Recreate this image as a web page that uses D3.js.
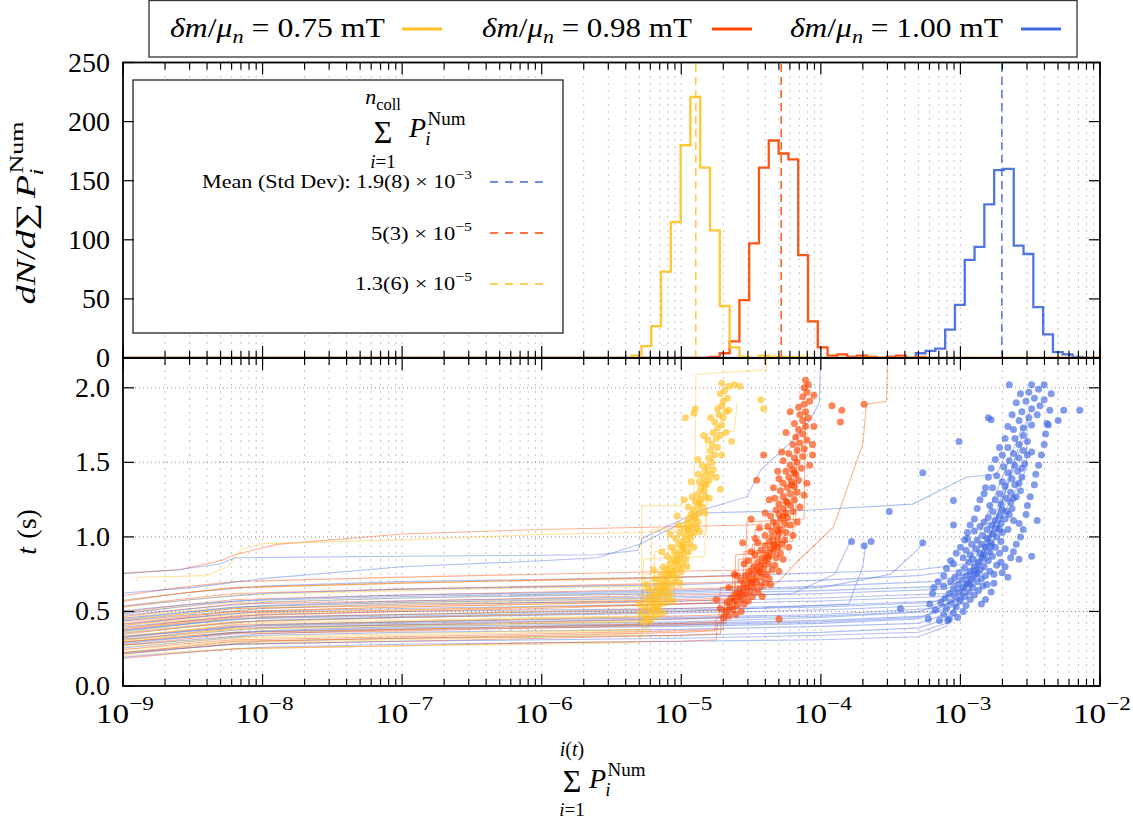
<!DOCTYPE html>
<html><head><meta charset="utf-8">
<script src="https://cdn.jsdelivr.net/npm/d3@7/dist/d3.min.js"></script>
<style>
body{margin:0;background:#fff}
text{font-family:"Times New Roman","Liberation Serif",serif;fill:#000;white-space:pre}
</style></head>
<body><svg id="c" width="1133" height="819"></svg>
<script>
// ---------------- DATA ----------------
const seriesNames = ['0.75', '0.98', '1.00'];           // delta m / mu_n in mT
const xExponents = [-9, -8, -7, -6, -5, -4, -3, -2];
const histTicks = [0, 50, 100, 150, 200, 250];
const timeTicks = [0.0, 0.5, 1.0, 1.5, 2.0];
const timeTickLabels = ['0.0', '0.5', '1.0', '1.5', '2.0'];

// histogram (log10 bins)
const binOrigin = -5.5664, binWidth = 0.0702;
const histStartBin = [3, 11, 25];
const histYellow = [2,10,27,73,115,180,221,161,108,44,9,1,0,2,1,1,1,1];
const histRed = [1,4,14,49,97,161,184,173,168,87,31,9,2,3,1,2,1,0,1,2,0,1];
const histBlue = [1,0,0,0,1,0,0,4,6,8,24,45,83,94,130,159,160,95,88,43,20,5,3,1];
const meanValues = [1.27e-5, 5.2e-5, 1.98e-3];
const meanLabels = [['1.3(6) × 10', '−5'], ['5(3) × 10', '−5'], ['1.9(8) × 10', '−3']];

// trajectories: [log10(sum P), t]
const yellowTracks = [
 [[-9.05,0.20],[-8.6,0.23],[-8.2,0.25],[-7,0.27],[-6,0.28],[-5.3,0.29],[-5.28,0.38],[-5.24,0.40],[-5.22,0.46]],
 [[-9.05,0.24],[-8.6,0.27],[-8.2,0.30],[-7,0.32],[-6,0.33],[-5.32,0.35],[-5.30,0.45],[-5.2,0.47],[-5.18,0.58]],
 [[-9.05,0.27],[-8.6,0.30],[-8.2,0.33],[-7,0.35],[-6,0.37],[-5.28,0.38],[-5.27,0.52],[-5.12,0.54],[-5.10,0.70]],
 [[-9.05,0.29],[-8.6,0.33],[-8.2,0.36],[-7,0.38],[-6,0.40],[-5.3,0.41],[-5.29,0.60],[-5.05,0.62],[-5.04,0.82]],
 [[-9.05,0.31],[-8.6,0.35],[-8.2,0.38],[-7,0.41],[-6,0.42],[-5.25,0.44],[-5.24,0.65],[-5.0,0.66],[-4.98,0.95]],
 [[-9.05,0.33],[-8.6,0.37],[-8.2,0.40],[-7,0.43],[-6,0.45],[-5.26,0.46],[-5.25,0.56],[-5.15,0.58],[-5.14,0.66]],
 [[-9.05,0.36],[-8.6,0.40],[-8.2,0.43],[-7,0.46],[-6,0.48],[-5.28,0.49],[-5.27,0.85],[-5.0,0.87],[-4.99,1.0],[-4.9,1.02],[-4.89,1.18]],
 [[-9.05,0.38],[-8.6,0.42],[-8.2,0.45],[-7,0.48],[-6,0.50],[-5.22,0.51],[-5.21,0.60],[-5.12,0.62],[-5.11,0.74]],
 [[-9.05,0.40],[-8.6,0.44],[-8.2,0.48],[-7,0.51],[-6,0.53],[-5.2,0.54],[-5.19,0.72],[-5.02,0.74],[-5.01,0.90]],
 [[-9.05,0.42],[-8.6,0.47],[-8.2,0.50],[-7,0.53],[-6,0.55],[-5.3,0.56],[-5.284,0.58],[-5.284,1.21],[-4.998,1.21],[-4.99,1.25],[-4.85,1.27],[-4.84,1.35]],
 [[-9.05,0.45],[-8.6,0.50],[-8.2,0.53],[-7,0.56],[-6,0.58],[-5.18,0.59],[-5.17,0.78],[-4.95,0.80],[-4.94,1.05]],
 [[-9.05,0.48],[-8.6,0.53],[-8.2,0.56],[-7,0.59],[-6,0.61],[-5.15,0.62],[-5.14,0.70],[-5.08,0.72],[-5.07,0.78]],
 [[-9.05,0.52],[-8.6,0.57],[-8.2,0.61],[-7,0.64],[-6,0.66],[-5.1,0.67],[-5.09,1.0],[-4.82,1.02],[-4.81,1.45]],
 [[-8.9,0.70],[-8.9,0.73],[-8.4,0.74],[-8.25,0.80],[-8.15,0.92],[-8.0,0.955],[-7,0.98],[-6,1.017],[-5.3,1.03],[-5.0,1.05],[-4.95,1.10]],
 [[-9.05,0.30],[-8.6,0.34],[-8.2,0.38],[-7,0.40],[-6,0.42],[-5.2,0.43],[-5.19,0.9],[-4.92,0.95],[-4.9,1.6],[-4.895,2.09],[-4.39,2.12],[-4.385,2.3]],
 [[-9.05,0.22],[-8.6,0.26],[-8.2,0.29],[-7,0.31],[-6,0.33],[-5.24,0.34],[-5.23,0.50],[-5.16,0.52],[-5.15,0.62]],
 [[-9.05,0.57],[-8.6,0.62],[-8.2,0.66],[-7,0.69],[-6,0.71],[-5.1,0.72],[-5.09,0.85],[-4.83,0.87],[-4.82,1.69],[-4.62,1.71],[-4.60,1.90]],
 [[-9.05,0.35],[-8.6,0.39],[-8.2,0.42],[-7,0.44],[-6,0.46],[-5.27,0.47],[-5.26,0.75],[-5.05,0.77],[-5.04,0.92]],
 [[-9.05,0.26],[-8.6,0.29],[-8.2,0.32],[-7,0.34],[-6,0.36],[-5.25,0.37],[-5.24,0.48],[-5.19,0.50],[-5.18,0.55]],
 [[-9.05,0.44],[-8.6,0.48],[-8.2,0.52],[-7,0.55],[-6,0.57],[-5.22,0.58],[-5.21,1.05],[-4.88,1.07],[-4.87,1.30]]
];
const redTracks = [
 [[-9.05,0.18],[-8.6,0.22],[-8.2,0.25],[-7,0.27],[-6,0.29],[-5,0.30],[-4.75,0.31],[-4.74,0.42],[-4.68,0.44],[-4.67,0.48]],
 [[-9.05,0.21],[-8.6,0.25],[-8.2,0.28],[-7,0.30],[-6,0.32],[-5,0.34],[-4.72,0.35],[-4.71,0.50],[-4.62,0.52],[-4.61,0.57]],
 [[-9.05,0.24],[-8.6,0.28],[-8.2,0.31],[-7,0.33],[-6,0.35],[-5,0.37],[-4.70,0.38],[-4.69,0.55],[-4.55,0.57],[-4.54,0.66]],
 [[-9.05,0.27],[-8.6,0.31],[-8.2,0.35],[-7,0.37],[-6,0.39],[-5,0.41],[-4.68,0.42],[-4.67,0.60],[-4.48,0.62],[-4.47,0.78]],
 [[-9.05,0.30],[-8.6,0.35],[-8.2,0.39],[-7,0.41],[-6,0.43],[-5,0.45],[-4.73,0.46],[-4.72,0.66],[-4.42,0.68],[-4.41,0.88]],
 [[-9.05,0.32],[-8.6,0.37],[-8.2,0.41],[-7,0.43],[-6,0.45],[-5,0.47],[-4.66,0.48],[-4.65,0.58],[-4.52,0.60],[-4.51,0.70]],
 [[-9.05,0.34],[-8.6,0.39],[-8.2,0.43],[-7,0.46],[-6,0.48],[-5,0.50],[-4.64,0.51],[-4.63,0.75],[-4.36,0.77],[-4.35,1.0]],
 [[-9.05,0.37],[-8.6,0.42],[-8.2,0.46],[-7,0.48],[-6,0.50],[-5,0.52],[-4.62,0.53],[-4.61,0.70],[-4.45,0.72],[-4.44,0.84]],
 [[-9.05,0.40],[-8.6,0.45],[-8.2,0.49],[-7,0.51],[-6,0.53],[-5,0.55],[-4.60,0.56],[-4.59,0.85],[-4.30,0.87],[-4.29,1.15]],
 [[-9.05,0.43],[-8.6,0.48],[-8.2,0.52],[-7,0.54],[-6,0.56],[-5,0.58],[-4.58,0.59],[-4.57,0.68],[-4.48,0.70],[-4.47,0.76]],
 [[-9.05,0.46],[-8.6,0.51],[-8.2,0.55],[-7,0.57],[-6,0.59],[-5,0.61],[-4.56,0.62],[-4.55,0.90],[-4.26,0.92],[-4.25,1.30]],
 [[-9.05,0.49],[-8.6,0.54],[-8.2,0.58],[-7,0.61],[-6,0.63],[-5,0.65],[-4.52,0.66],[-4.51,0.80],[-4.40,0.82],[-4.39,0.90]],
 [[-9.05,0.53],[-8.6,0.58],[-8.2,0.62],[-7,0.65],[-6,0.67],[-5,0.69],[-4.50,0.70],[-4.49,0.95],[-4.20,0.97],[-4.19,1.50]],
 [[-9.05,0.754],[-8.6,0.78],[-8.3,0.84],[-8.2,0.88],[-7.9,0.95],[-7,1.02],[-6,1.05],[-5,1.07],[-4.5,1.08],[-4.42,1.09]],
 [[-9.05,0.38],[-8.6,0.43],[-8.2,0.47],[-7,0.50],[-6,0.52],[-5,0.55],[-4.6,0.57],[-4.5,0.62],[-4.3,0.70],[-4.175,0.83],[-3.91,1.066],[-3.70,1.62],[-3.673,1.89],[-3.53,1.91],[-3.52,2.3]],
 [[-9.05,0.60],[-8.6,0.66],[-8.2,0.70],[-7,0.73],[-6,0.75],[-5,0.77],[-4.48,0.78],[-4.47,1.05],[-4.18,1.07],[-4.17,1.70]],
 [[-9.05,0.29],[-8.6,0.33],[-8.2,0.36],[-7,0.38],[-6,0.40],[-5,0.42],[-4.70,0.43],[-4.69,0.52],[-4.58,0.54],[-4.57,0.60]],
 [[-9.05,0.22],[-8.6,0.26],[-8.2,0.30],[-7,0.32],[-6,0.34],[-5,0.36],[-4.76,0.37],[-4.75,0.45],[-4.70,0.47],[-4.69,0.52]],
 [[-9.05,0.56],[-8.6,0.62],[-8.2,0.66],[-7,0.69],[-6,0.71],[-5,0.73],[-4.54,0.74],[-4.53,1.10],[-4.12,1.12],[-4.11,1.85]],
 [[-9.05,0.41],[-8.6,0.46],[-8.2,0.50],[-7,0.53],[-6,0.55],[-5,0.57],[-4.62,0.58],[-4.61,0.88],[-4.33,0.90],[-4.32,1.05]]
];
const blueTracks = [
 [[-9.05,0.19],[-8.5,0.23],[-8,0.26],[-7,0.28],[-5,0.30],[-4,0.31],[-3.3,0.33],[-3.1,0.40],[-3.05,0.48]],
 [[-9.05,0.22],[-8.5,0.26],[-8,0.30],[-7,0.32],[-5,0.34],[-4,0.36],[-3.3,0.39],[-3.1,0.45],[-3.0,0.58]],
 [[-9.05,0.25],[-8.5,0.30],[-8,0.34],[-7,0.36],[-5,0.38],[-4,0.40],[-3.3,0.42],[-3.05,0.50],[-2.95,0.72]],
 [[-9.05,0.27],[-8.5,0.31],[-8,0.35],[-7,0.38],[-5,0.40],[-4,0.42],[-3.3,0.45],[-3.0,0.55],[-2.88,0.85]],
 [[-9.05,0.29],[-8.5,0.33],[-8,0.37],[-7,0.40],[-5,0.42],[-4,0.44],[-3.25,0.47],[-3.0,0.60],[-2.8,1.0]],
 [[-9.05,0.31],[-8.5,0.35],[-8,0.39],[-7,0.41],[-5,0.43],[-4,0.46],[-3.2,0.50],[-2.95,0.62],[-2.7,1.2]],
 [[-9.05,0.33],[-8.5,0.37],[-8,0.41],[-7,0.43],[-5,0.46],[-4,0.48],[-3.2,0.52],[-3.0,0.58],[-2.9,0.80]],
 [[-9.05,0.35],[-8.5,0.40],[-8,0.44],[-7,0.46],[-5,0.49],[-4,0.51],[-3.2,0.54],[-3.0,0.62],[-2.85,0.95]],
 [[-9.05,0.37],[-8.5,0.42],[-8,0.46],[-7,0.48],[-5,0.51],[-4,0.53],[-3.2,0.56],[-2.95,0.66],[-2.75,1.1]],
 [[-9.05,0.39],[-8.5,0.44],[-8,0.48],[-7,0.50],[-5,0.52],[-4,0.54],[-3.15,0.57],[-2.9,0.70],[-2.62,1.45]],
 [[-9.05,0.41],[-8.5,0.46],[-8,0.50],[-7,0.52],[-5,0.55],[-4,0.57],[-3.1,0.60],[-2.9,0.72],[-2.55,1.65]],
 [[-9.05,0.43],[-8.5,0.48],[-8,0.52],[-7,0.55],[-5,0.57],[-4,0.59],[-3.1,0.62],[-2.85,0.75],[-2.65,1.3]],
 [[-9.05,0.45],[-8.5,0.50],[-8,0.54],[-7,0.57],[-5,0.60],[-4,0.62],[-3.1,0.65],[-2.85,0.8],[-2.5,1.85]],
 [[-9.05,0.47],[-8.5,0.52],[-8,0.56],[-7,0.59],[-5,0.62],[-4,0.64],[-3.1,0.67],[-2.8,0.85],[-2.7,1.15]],
 [[-9.05,0.50],[-8.5,0.55],[-8,0.58],[-7,0.61],[-5,0.64],[-4,0.67],[-3.2,0.70],[-2.9,0.76],[-2.6,1.55]],
 [[-9.05,0.53],[-8.5,0.58],[-8,0.62],[-7,0.65],[-5,0.68],[-4,0.71],[-3.3,0.74],[-3.0,0.78],[-2.75,1.05]],
 [[-9.05,0.57],[-8.5,0.63],[-8,0.67],[-7,0.70],[-5,0.73],[-4,0.76],[-3.3,0.78],[-2.95,0.82],[-2.55,1.75]],
 [[-9.05,0.75],[-8.6,0.78],[-8.3,0.82],[-8.2,0.86],[-7,0.87],[-5.6,0.88],[-5.31,0.91],[-5.28,0.99],[-4.85,1.18],[-4.53,1.27],[-4.43,1.45],[-4.22,1.63],[-4.08,1.78],[-4.01,1.9],[-4.0,2.3]],
 [[-9.05,0.62],[-8.5,0.66],[-8,0.72],[-7,0.80],[-6,0.84],[-5.6,0.86],[-5.3,0.95],[-4.85,1.16],[-4.07,1.18],[-3.34,1.22],[-2.96,1.40],[-2.74,1.42],[-2.68,1.55]],
 [[-9.05,0.21],[-8.6,0.25],[-8.2,0.28],[-7,0.30],[-5,0.32],[-4,0.34],[-3.3,0.36],[-3.1,0.42],[-3.08,0.45]],
 [[-9.05,0.28],[-8.6,0.32],[-8.2,0.36],[-7,0.39],[-5,0.41],[-4,0.43],[-3.3,0.46],[-3.05,0.54],[-2.97,0.66]],
 [[-9.05,0.36],[-8.6,0.41],[-8.2,0.45],[-7,0.47],[-5,0.50],[-3.8,0.55],[-3.7,0.80],[-3.68,0.94]],
 [[-9.05,0.44],[-8.6,0.49],[-8.2,0.53],[-7,0.56],[-5,0.59],[-4.2,0.62],[-3.9,0.75],[-3.8,0.95],[-3.78,0.97]],
 [[-9.05,0.48],[-8.6,0.53],[-8.2,0.57],[-7,0.60],[-5,0.63],[-4,0.66],[-3.5,0.75],[-3.3,0.92],[-3.27,0.96]],
 [[-9.05,0.32],[-8.6,0.36],[-8.2,0.40],[-7,0.42],[-5,0.45],[-4,0.47],[-3.3,0.50],[-3.0,0.58],[-2.53,1.45],[-2.52,1.8]]
];

// end points: [log10(sum P), t]
const yellowEnds = [
 [-5.27,0.43],[-5.22,0.44],[-5.25,0.46],[-5.18,0.47],[-5.21,0.48],[-5.29,0.49],[-5.16,0.50],[-5.23,0.51],[-5.19,0.52],[-5.13,0.49],
 [-5.26,0.53],[-5.20,0.54],[-5.15,0.55],[-5.22,0.56],[-5.17,0.57],[-5.11,0.56],[-5.24,0.58],[-5.19,0.59],[-5.14,0.60],[-5.09,0.59],
 [-5.21,0.61],[-5.16,0.62],[-5.12,0.63],[-5.18,0.64],[-5.08,0.62],[-5.23,0.65],[-5.14,0.65],[-5.10,0.66],
 [-5.17,0.67],[-5.13,0.68],[-5.07,0.68],[-5.15,0.70],[-5.10,0.71],[-5.05,0.70],[-5.19,0.72],[-5.12,0.73],[-5.08,0.74],[-5.03,0.73],
 [-5.14,0.75],[-5.09,0.76],[-5.05,0.77],[-5.11,0.78],[-5.00,0.77],[-5.07,0.79],[-5.02,0.80],[-5.13,0.80],
 [-5.08,0.82],[-5.04,0.83],[-4.99,0.82],[-5.06,0.85],[-5.01,0.86],[-4.97,0.85],[-5.10,0.87],[-5.03,0.88],[-4.98,0.89],[-5.05,0.90],
 [-5.00,0.91],[-4.95,0.90],[-5.07,0.93],[-4.98,0.93],[-5.02,0.95],[-4.94,0.95],
 [-4.99,0.97],[-4.96,0.98],[-5.04,0.99],[-4.93,1.00],[-4.97,1.01],[-5.01,1.03],[-4.95,1.04],[-4.91,1.03],[-4.98,1.06],[-4.93,1.07],
 [-4.89,1.06],[-4.96,1.09],[-4.92,1.10],[-5.02,1.08],[-4.88,1.10],[-4.95,1.12],
 [-4.90,1.13],[-4.93,1.15],[-4.87,1.16],[-4.91,1.18],[-4.95,1.20],[-4.88,1.21],[-4.85,1.20],[-4.90,1.24],[-4.86,1.25],[-4.83,1.27],
 [-4.92,1.27],[-4.88,1.29],[-4.84,1.31],[-4.86,1.33],
 [-4.82,1.35],[-4.87,1.37],[-4.80,1.38],[-4.84,1.40],[-4.79,1.42],[-4.83,1.44],[-4.77,1.45],[-4.81,1.47],[-4.85,1.48],[-4.78,1.50],
 [-4.72,1.32],[-4.88,1.42],
 [-4.80,1.53],[-4.76,1.55],[-4.79,1.58],[-4.74,1.60],[-4.78,1.62],[-4.81,1.65],[-4.75,1.66],[-4.72,1.68],[-4.77,1.70],[-4.64,1.64],
 [-4.74,1.73],[-4.71,1.75],[-4.76,1.77],[-4.70,1.80],[-4.73,1.82],[-4.68,1.84],[-4.74,1.86],[-4.71,1.88],[-4.66,1.85],[-4.79,1.80],
 [-4.70,1.91],[-4.67,1.93],[-4.72,1.96],[-4.69,1.98],[-4.66,2.01],[-4.62,2.02],[-4.71,2.03],[-4.58,2.01],
 [-4.97,1.80],[-4.90,1.86],[-4.91,1.83],[-4.41,1.86],[-4.43,1.92],
 [-5.30,0.55],[-5.06,0.57],[-5.25,0.68],[-5.01,0.69],[-5.20,0.78],[-4.96,0.80],[-5.14,0.90],[-4.91,0.93],[-5.08,1.02],[-4.87,1.04],
 [-5.03,1.14],[-4.83,1.16],[-4.98,1.25],[-4.80,1.26],[-4.93,1.37],[-4.75,1.40],[-4.88,1.52],[-4.71,1.55],[-4.84,1.68],[-4.68,1.70],
 [-5.17,0.53],[-5.12,0.66],[-5.06,0.75],[-5.03,0.84],[-4.99,0.94],[-4.95,1.05],[-4.91,1.14],[-4.87,1.23],[-4.84,1.36]
];
const redEnds = [
 [-4.70,0.46],[-4.66,0.47],[-4.61,0.48],[-4.68,0.50],[-4.63,0.51],[-4.57,0.50],[-4.72,0.52],[-4.65,0.53],[-4.60,0.54],[-4.55,0.55],
 [-4.67,0.56],[-4.62,0.57],[-4.57,0.58],[-4.52,0.57],[-4.64,0.59],[-4.59,0.60],[-4.54,0.61],[-4.49,0.60],[-4.61,0.62],[-4.56,0.63],
 [-4.51,0.64],[-4.45,0.63],[-4.58,0.65],[-4.53,0.66],[-4.48,0.66],[-4.43,0.67],[-4.55,0.68],[-4.50,0.69],[-4.46,0.70],[-4.40,0.69],
 [-4.57,0.71],[-4.52,0.72],[-4.47,0.72],[-4.42,0.73],[-4.37,0.72],[-4.54,0.74],[-4.49,0.75],[-4.44,0.76],[-4.39,0.75],[-4.51,0.77],
 [-4.46,0.78],[-4.41,0.79],[-4.35,0.78],[-4.48,0.80],[-4.43,0.81],[-4.38,0.82],[-4.33,0.81],[-4.45,0.83],[-4.40,0.84],[-4.52,0.84],
 [-4.42,0.86],[-4.37,0.87],[-4.32,0.86],[-4.47,0.88],[-4.39,0.89],[-4.34,0.90],[-4.29,0.89],[-4.43,0.91],[-4.36,0.92],[-4.31,0.93],
 [-4.40,0.94],[-4.34,0.95],[-4.28,0.95],[-4.45,0.96],[-4.37,0.97],[-4.31,0.98],[-4.26,0.98],[-4.35,1.00],
 [-4.40,1.01],[-4.30,1.02],[-4.25,1.03],[-4.35,1.04],[-4.29,1.05],[-4.38,1.07],[-4.32,1.08],[-4.26,1.09],[-4.22,1.08],[-4.34,1.10],
 [-4.29,1.12],[-4.24,1.13],[-4.36,1.14],[-4.30,1.15],[-4.25,1.16],[-4.20,1.17],[-4.32,1.18],[-4.27,1.19],
 [-4.22,1.21],[-4.30,1.22],[-4.25,1.24],[-4.19,1.25],[-4.33,1.26],[-4.27,1.27],[-4.22,1.29],[-4.17,1.30],[-4.29,1.31],[-4.24,1.33],
 [-4.19,1.34],[-4.27,1.36],[-4.21,1.37],[-4.16,1.38],[-4.30,1.39],[-4.23,1.40],
 [-4.18,1.42],[-4.25,1.44],[-4.20,1.45],[-4.14,1.46],[-4.22,1.48],[-4.17,1.50],[-4.27,1.51],[-4.19,1.53],[-4.13,1.54],[-4.23,1.56],
 [-4.17,1.58],[-4.12,1.59],
 [-4.20,1.62],[-4.15,1.63],[-4.10,1.65],[-4.18,1.67],[-4.13,1.69],[-4.16,1.72],[-4.11,1.74],[-4.19,1.76],[-4.13,1.78],[-4.09,1.80],
 [-4.15,1.82],[-4.11,1.84],[-4.16,1.87],[-4.12,1.89],[-4.08,1.91],[-4.13,1.94],[-4.10,1.97],[-4.12,2.00],[-4.09,2.02],[-4.11,2.05],
 [-4.41,1.55],[-4.46,1.38],[-4.50,1.12],[-4.56,0.96],[-3.92,1.88],[-3.85,1.85],[-3.86,1.77],[-3.69,1.89],[-4.62,0.75],[-4.30,0.45],[-4.06,1.55],
 [-4.75,0.58],[-4.42,0.60],[-4.66,0.66],[-4.36,0.68],[-4.60,0.74],[-4.30,0.77],[-4.55,0.82],[-4.27,0.85],[-4.50,0.90],[-4.23,0.93],
 [-4.47,0.99],[-4.20,1.01],[-4.44,1.06],[-4.17,1.10],[-4.40,1.16],[-4.15,1.20],[-4.37,1.25],[-4.12,1.28],[-4.34,1.33],[-4.10,1.36],
 [-4.31,1.44],[-4.08,1.48],[-4.28,1.57],[-4.06,1.62],[-4.25,1.70],[-4.05,1.74],[-4.22,1.84],[-4.05,1.95],
 [-4.58,0.62],[-4.50,0.70],[-4.44,0.77],[-4.38,0.86],[-4.33,0.94],[-4.31,1.04],[-4.27,1.14],[-4.24,1.23],[-4.21,1.35],[-4.19,1.43]
];
const blueEnds = [
 [-3.15,0.44],[-3.08,0.45],[-3.02,0.46],[-3.12,0.48],[-3.05,0.49],[-2.98,0.50],[-3.18,0.51],[-3.10,0.52],[-3.03,0.53],[-2.96,0.54],
 [-3.14,0.56],[-3.07,0.56],[-3.00,0.57],[-2.93,0.58],[-3.11,0.59],[-3.04,0.60],[-2.97,0.60],[-2.90,0.61],[-3.08,0.62],[-3.01,0.63],
 [-2.94,0.63],[-2.87,0.64],[-3.05,0.65],[-2.98,0.66],[-2.91,0.66],[-2.84,0.67],[-3.12,0.67],[-3.02,0.68],[-2.95,0.69],[-2.88,0.70],
 [-2.81,0.68],[-3.07,0.70],
 [-2.99,0.71],[-2.92,0.72],[-2.85,0.72],[-3.04,0.73],[-2.96,0.74],[-2.89,0.75],[-2.82,0.74],[-2.76,0.75],[-3.01,0.76],[-2.93,0.77],
 [-2.86,0.78],[-2.79,0.77],[-2.97,0.79],[-2.90,0.80],[-2.83,0.80],[-2.74,0.81],[-3.05,0.82],[-2.94,0.83],[-2.87,0.83],[-2.80,0.84],
 [-2.91,0.85],[-2.71,0.83],
 [-2.98,0.86],[-2.84,0.86],[-2.77,0.87],[-2.93,0.88],[-2.86,0.89],[-2.79,0.90],[-2.72,0.89],[-2.96,0.91],[-2.89,0.92],[-2.82,0.93],
 [-2.75,0.93],[-2.68,0.92],[-2.92,0.95],[-2.85,0.95],[-2.78,0.96],[-2.71,0.97],[-2.88,0.98],[-2.81,0.99],[-2.74,1.00],[-2.95,0.99],
 [-2.84,1.01],[-2.77,1.02],[-2.70,1.03],[-2.90,1.04],[-2.81,1.05],[-2.74,1.06],[-2.66,1.05],[-2.86,1.07],[-2.78,1.08],[-2.71,1.09],
 [-2.83,1.10],[-2.75,1.11],[-2.68,1.12],[-2.62,1.11],[-2.80,1.13],[-2.72,1.14],[-2.65,1.15],[-2.77,1.17],[-2.70,1.18],[-2.63,1.19],
 [-2.79,1.21],[-2.71,1.22],[-2.64,1.23],[-2.75,1.25],[-2.67,1.26],[-2.60,1.27],[-2.72,1.29],[-2.64,1.30],[-2.57,1.31],[-2.77,1.33],
 [-2.68,1.34],[-2.61,1.35],[-2.70,1.37],[-2.63,1.39],[-2.56,1.40],[-2.74,1.41],[-2.66,1.43],[-2.59,1.44],
 [-2.69,1.47],[-2.61,1.48],[-2.54,1.49],[-2.65,1.51],[-2.58,1.53],[-2.70,1.55],[-2.62,1.56],[-2.55,1.58],[-2.49,1.57],[-2.66,1.60],
 [-2.58,1.62],[-2.52,1.64],[-2.61,1.66],[-2.55,1.68],
 [-2.62,1.72],[-2.55,1.73],[-2.49,1.75],[-2.58,1.78],[-2.51,1.80],[-2.45,1.82],[-2.56,1.84],[-2.49,1.86],[-2.43,1.88],[-2.53,1.91],
 [-2.47,1.93],[-2.51,1.97],[-2.44,1.99],[-2.49,2.02],
 [-3.27,1.43],[-3.01,1.64],[-2.80,1.80],[-2.78,1.785],[-2.145,1.85],[-2.26,1.85],[-2.40,2.02],[-2.65,2.02],[-2.35,1.96],[-3.05,1.245],
 [-3.05,1.08],[-2.49,0.87],[-2.58,0.85],[-2.45,1.11],[-3.51,1.17],[-3.78,0.97],[-3.69,0.94],[-3.64,0.97],[-3.27,0.96],[-3.43,0.52],
 [-3.23,0.45],[-3.09,0.44],[-2.37,1.75],[-2.30,1.78],
 [-3.22,0.55],[-2.82,0.58],[-3.20,0.62],[-2.78,0.63],[-3.19,0.66],[-2.76,0.69],[-3.16,0.70],[-2.85,0.55],
 [-3.12,0.74],[-2.70,0.76],[-3.10,0.79],[-2.68,0.80],[-3.07,0.84],[-2.64,0.86],[-3.03,0.89],[-2.62,0.90],[-2.66,0.73],
 [-3.00,0.93],[-2.60,0.95],[-2.97,0.98],[-2.57,1.00],[-2.95,1.03],[-2.55,1.05],[-2.93,1.08],[-2.58,1.09],
 [-2.90,1.12],[-2.53,1.15],[-2.88,1.19],[-2.52,1.21],[-2.86,1.25],[-2.50,1.27],[-2.83,1.29],
 [-2.82,1.33],[-2.47,1.35],[-2.80,1.40],[-2.46,1.42],[-2.78,1.46],[-2.44,1.48],
 [-2.75,1.52],[-2.42,1.55],[-2.72,1.60],[-2.40,1.62],[-2.68,1.66],[-2.39,1.69],
 [-2.66,1.74],[-2.38,1.76],[-2.63,1.82],[-2.36,1.85],[-2.60,1.90],[-2.40,1.92],[-2.57,1.96],
 [-2.93,0.68],[-2.88,0.76],[-2.83,0.88],[-2.78,0.94],[-2.72,1.05],[-2.67,1.17],[-2.62,1.26],[-2.58,1.36],[-2.56,1.46],[-2.52,1.55]
];

// ---------------- STYLE / LAYOUT ----------------
const COL = ['#FFC125', '#FF4500', '#4169E1'];   // yellow, red, blue
const PL = 123, PR = 1100, PTOP = 62.5, PMID = 358, PBOT = 686;
const svg = d3.select('#c');

const x = d3.scaleLog().domain([1e-9, 1e-2]).range([PL, PR]);
const yH = d3.scaleLinear().domain([0, 250]).range([PMID, PTOP]);
const yT = d3.scaleLinear().domain([0, 2.2]).range([PBOT, PMID]);

const defs = svg.append('defs');
defs.append('clipPath').attr('id', 'clipTop').append('rect').attr('x', PL).attr('y', PTOP).attr('width', PR - PL).attr('height', PMID - PTOP);
defs.append('clipPath').attr('id', 'clipBot').append('rect').attr('x', PL).attr('y', PMID).attr('width', PR - PL).attr('height', PBOT - PMID);

// math text helper: items {s, i, sz, dy, gap, stack}
function mathRow(parent, items, size) {
  const g = parent.append('g');
  let cx = 0;
  items.forEach(it => {
    if (it.gap !== undefined) { cx += it.gap * size; return; }
    if (it.stack) {
      let w = 0;
      const [sup, sub, subDx] = it.stack;
      if (sup) { const t = g.append('text').attr('x', cx).attr('y', -size * 0.42).attr('font-size', size * 0.68).text(sup); w = Math.max(w, t.node().getComputedTextLength()); }
      if (sub) { const t = g.append('text').attr('x', cx + (subDx || 0) * size).attr('y', size * 0.28).attr('font-size', size * 0.68).attr('font-style', 'italic').text(sub); w = Math.max(w, t.node().getComputedTextLength() + (subDx || 0) * size); }
      cx += w; return;
    }
    const fs = size * (it.sz || 1);
    const t = g.append('text').attr('x', cx).attr('y', (it.dy || 0) * size).attr('font-size', fs)
      .attr('font-style', it.i ? 'italic' : 'normal').text(it.s);
    cx += t.node().getComputedTextLength();
  });
  return { g, w: cx };
}
function place(m, px, py, anchor, targetW) {
  const s = targetW ? targetW / m.w : 1;
  const w = m.w * s;
  const ox = anchor === 'middle' ? px - w / 2 : anchor === 'end' ? px - w : px;
  m.g.attr('transform', `translate(${ox},${py}) scale(${s},1)`);
}

// ---------------- GRID ----------------
const xTickVals = x.ticks();
const isMajor = v => Math.abs(Math.log10(v) - Math.round(Math.log10(v))) < 1e-6;
const grid = svg.append('g');
xTickVals.filter(v => v > 1.0001e-9 && v < 0.9999e-2).forEach(v => {
  grid.append('line').attr('x1', x(v)).attr('x2', x(v)).attr('y1', PTOP).attr('y2', PBOT)
    .attr('stroke', '#8a8a8a').attr('stroke-width', 1).attr('stroke-dasharray', '1,6');
});
timeTicks.filter(v => v > 0).forEach(v => {
  grid.append('line').attr('x1', PL).attr('x2', PR).attr('y1', yT(v)).attr('y2', yT(v))
    .attr('stroke', '#8a8a8a').attr('stroke-width', 1).attr('stroke-dasharray', '1,3');
});

// ---------------- BOTTOM PANEL ----------------
const botG = svg.append('g').attr('clip-path', 'url(#clipBot)');
const tline = d3.line().x(d => x(Math.pow(10, d[0]))).y(d => yT(d[1]));
const trackSets = [yellowTracks, redTracks, blueTracks];
const nMax = d3.max(trackSets, s => s.length);
for (let i = 0; i < nMax; i++) {
  [2, 1, 0].forEach(si => {
    const tr = trackSets[si][i];
    if (!tr) return;
    botG.append('path').attr('d', tline(tr)).attr('fill', 'none')
      .attr('stroke', COL[si]).attr('stroke-width', 1.1).attr('stroke-opacity', 0.42);
  });
}
[yellowEnds, redEnds, blueEnds].forEach((pts, si) => {
  botG.append('g').selectAll('circle').data(pts).join('circle')
    .attr('cx', d => x(Math.pow(10, d[0]))).attr('cy', d => yT(d[1])).attr('r', 3.5)
    .attr('fill', COL[si]).attr('fill-opacity', 0.66);
});

// ---------------- TOP PANEL (histograms) ----------------
const topG = svg.append('g').attr('clip-path', 'url(#clipTop)');
const hline = d3.line().x(d => x(d[0])).y(d => yH(d[1])).curve(d3.curveStepAfter);
function histPts(start, counts) {
  const pts = [[1e-9, 0]];
  counts.forEach((c, i) => pts.push([Math.pow(10, binOrigin + (start + i) * binWidth), c]));
  pts.push([Math.pow(10, binOrigin + (start + counts.length) * binWidth), 0]);
  pts.push([1e-2, 0]);
  return pts;
}
[[2, histBlue], [1, histRed], [0, histYellow]].forEach(([si, counts]) => {
  topG.append('path').attr('d', hline(histPts(histStartBin[si], counts))).attr('fill', 'none')
    .attr('stroke', COL[si]).attr('stroke-width', 2.3).attr('stroke-opacity', 0.92);
});
meanValues.forEach((m, si) => {
  topG.append('line').attr('x1', x(m)).attr('x2', x(m)).attr('y1', yH(0)).attr('y2', yH(250))
    .attr('stroke', COL[si]).attr('stroke-width', 1.6).attr('stroke-dasharray', '8,5').attr('stroke-opacity', 0.85);
});

// inset legend
const ins = svg.append('g');
ins.append('rect').attr('x', 133).attr('y', 80).attr('width', 430).attr('height', 253)
  .attr('fill', '#fff').attr('stroke', '#111').attr('stroke-width', 1.2);
ins.append('text').attr('x', 383).attr('y', 143).attr('text-anchor', 'middle').attr('font-size', 32).text('Σ');
{
  const m = mathRow(ins, [{ s: 'n', i: 1 }, { s: 'coll', sz: 0.75, dy: 0.25 }], 22);
  place(m, 383, 104, 'middle');
  const m2 = mathRow(ins, [{ s: 'i', i: 1 }, { s: '=1' }], 19);
  place(m2, 383, 168, 'middle');
  const m3 = mathRow(ins, [{ s: 'P', i: 1 }, { gap: 0.05 }, { stack: ['Num', 'i', -0.08] }], 28);
  place(m3, 409, 137, 'start');
}
const rowY = [290, 240, 188];
const dashY = [284, 233, 182];
const rowW = [117, 101, 270];
[2, 1, 0].forEach(si => {
  const lbl = meanLabels[si];
  const items = [];
  if (si === 2) items.push({ s: 'Mean (Std Dev): ' });
  items.push({ s: lbl[0] }, { s: lbl[1], sz: 0.7, dy: -0.45 });
  const m = mathRow(ins, items, 19);
  place(m, 472, rowY[si], 'end', rowW[si]);
  ins.append('line').attr('x1', 490).attr('x2', 548).attr('y1', dashY[si]).attr('y2', dashY[si])
    .attr('stroke', COL[si]).attr('stroke-width', 1.6).attr('stroke-dasharray', '8,7');
});

// ---------------- FRAMES & TICKS ----------------
const ax = svg.append('g').attr('stroke', '#000').attr('fill', 'none');
ax.append('rect').attr('x', PL).attr('y', PTOP).attr('width', PR - PL).attr('height', PMID - PTOP).attr('stroke-width', 1.8);
ax.append('rect').attr('x', PL).attr('y', PMID).attr('width', PR - PL).attr('height', PBOT - PMID).attr('stroke-width', 1.8);
xTickVals.forEach(v => {
  const len = isMajor(v) ? 12 : 7;
  const px = x(v);
  ax.append('line').attr('x1', px).attr('x2', px).attr('y1', PTOP).attr('y2', PTOP + len).attr('stroke-width', 1.2);
  ax.append('line').attr('x1', px).attr('x2', px).attr('y1', PMID - len).attr('y2', PMID + len).attr('stroke-width', 1.2);
  ax.append('line').attr('x1', px).attr('x2', px).attr('y1', PBOT).attr('y2', PBOT - len).attr('stroke-width', 1.2);
});
histTicks.forEach(v => {
  ax.append('line').attr('x1', PL).attr('x2', PL + 11).attr('y1', yH(v)).attr('y2', yH(v)).attr('stroke-width', 1.2);
  ax.append('line').attr('x1', PR).attr('x2', PR - 11).attr('y1', yH(v)).attr('y2', yH(v)).attr('stroke-width', 1.2);
});
timeTicks.forEach(v => {
  ax.append('line').attr('x1', PL).attr('x2', PL + 11).attr('y1', yT(v)).attr('y2', yT(v)).attr('stroke-width', 1.2);
  ax.append('line').attr('x1', PR).attr('x2', PR - 11).attr('y1', yT(v)).attr('y2', yT(v)).attr('stroke-width', 1.2);
});

// tick labels
const lab = svg.append('g');
histTicks.forEach(v => {
  lab.append('text').attr('x', 110).attr('y', yH(v) + 9).attr('text-anchor', 'end').attr('font-size', 28).text(String(v));
});
timeTicks.forEach((v, i) => {
  lab.append('text').attr('x', 110).attr('y', yT(v) + 9).attr('text-anchor', 'end').attr('font-size', 28).text(timeTickLabels[i]);
});
xExponents.forEach(e => {
  const m = mathRow(lab, [{ s: '10' }, { s: '−' + Math.abs(e), sz: 0.7, dy: -0.45 }], 28);
  place(m, x(Math.pow(10, e)) + 2, 723, 'middle', 58);
});

// axis titles
{
  const gy = svg.append('g').attr('transform', 'translate(35,213) rotate(-90)');
  const m = mathRow(gy, [{ s: 'dN', i: 1 }, { s: '/' }, { s: 'd', i: 1 }, { s: '∑', sz: 1.0 }, { gap: 0.12 }, { s: 'P', i: 1 }, { gap: 0.04 }, { stack: ['Num', 'i', -0.06] }], 28);
  place(m, 0, 0, 'middle', 183);
  const gt = svg.append('g').attr('transform', 'translate(36,532) rotate(-90)');
  const m2 = mathRow(gt, [{ s: 't', i: 1 }, { gap: 0.3 }, { s: '(s)' }], 28);
  place(m2, 0, 0, 'middle');
  const gx = svg.append('g');
  gx.append('text').attr('x', 572).attr('y', 792).attr('text-anchor', 'middle').attr('font-size', 32).text('Σ');
  const a = mathRow(gx, [{ s: 'i', i: 1 }, { s: '(' }, { s: 't', i: 1 }, { s: ')' }], 20);
  place(a, 572, 756, 'middle');
  const b = mathRow(gx, [{ s: 'i', i: 1 }, { s: '=1' }], 19);
  place(b, 572, 816, 'middle');
  const c = mathRow(gx, [{ s: 'P', i: 1 }, { gap: 0.05 }, { stack: ['Num', 'i', -0.08] }], 28);
  place(c, 589, 788, 'start');
}

// ---------------- TOP LEGEND ----------------
const lg = svg.append('g');
lg.append('rect').attr('x', 149).attr('y', 0.5).attr('width', 928).attr('height', 56.5)
  .attr('fill', '#fff').attr('stroke', '#333').attr('stroke-width', 1.3);
const legEnd = [385, 692, 1003];
const legW = [215, 210, 213];
const legLine = [[402, 442], [712, 752], [1021, 1061]];
seriesNames.forEach((nm, si) => {
  const m = mathRow(lg, [{ s: 'δm', i: 1 }, { s: '/' }, { s: 'μ', i: 1 }, { s: 'n', i: 1, sz: 0.7, dy: 0.22 }, { s: ' = ' + nm + ' mT' }], 27);
  place(m, legEnd[si], 37, 'end', legW[si]);
  lg.append('line').attr('x1', legLine[si][0]).attr('x2', legLine[si][1]).attr('y1', 29).attr('y2', 29)
    .attr('stroke', COL[si]).attr('stroke-width', 3);
});
</script>
</body></html>
